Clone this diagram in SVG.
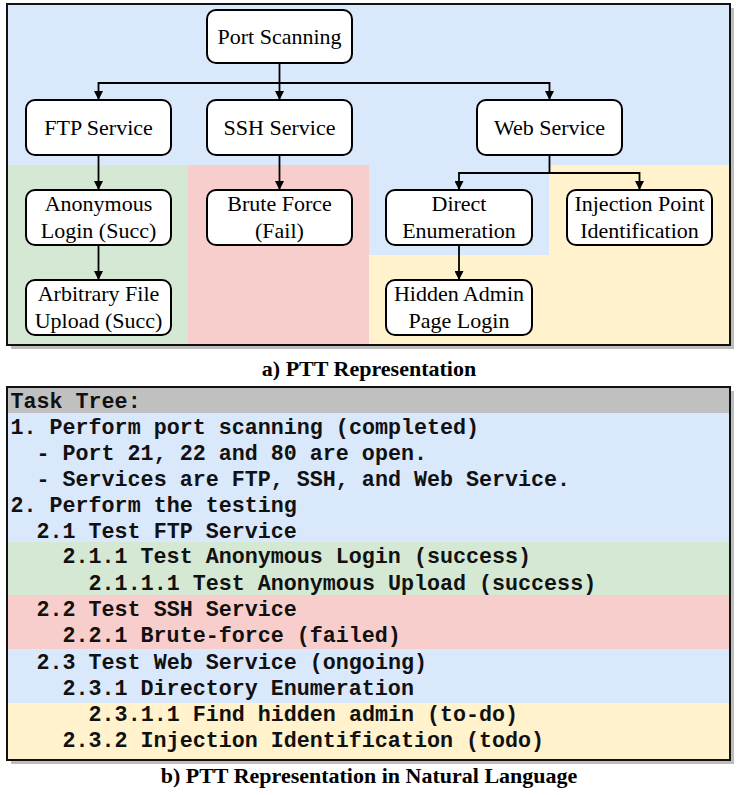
<svg xmlns="http://www.w3.org/2000/svg" width="739" height="795" viewBox="0 0 739 795">
<style>
.node rect{fill:#fff;stroke:#000;stroke-width:2}
.node text{font-family:"Liberation Serif","Times New Roman",serif;font-size:22px;fill:#000;text-anchor:middle}
.cap{font-family:"Liberation Serif","Times New Roman",serif;font-size:22px;fill:#000;text-anchor:middle;font-weight:bold}
.conn path{fill:none;stroke:#000;stroke-width:1.8}
.mono{font-family:"Liberation Mono","Courier New",monospace;font-size:21.7px;font-weight:bold;fill:#111}
.frame{fill:none;stroke:#111;stroke-width:2}
.shadow{fill:#bdbdbd}
</style>
<defs>
<marker id="arr" viewBox="0 0 10 10" refX="10" refY="5" markerWidth="9" markerHeight="9" markerUnits="userSpaceOnUse" orient="auto">
<path d="M0,0 L10,5 L0,10 z" fill="#000"/>
</marker>
</defs>

<!-- panel a -->
<g id="panel-a">
<rect class="shadow" x="11" y="8" width="723" height="341"/>
<rect x="7" y="4" width="723" height="341" fill="#dae8fc"/>
<rect x="8" y="165" width="180" height="179" fill="#d5e8d4"/>
<rect x="188" y="165" width="181" height="179" fill="#f8cecc"/>
<path d="M549,165 H729 V344 H369 V255 H549 Z" fill="#fff2cc"/>
<rect class="frame" x="7" y="4" width="723" height="341"/>
</g>

<g class="conn" id="connectors">
<path d="M279.5,63 V100" marker-end="url(#arr)"/>
<path d="M279.5,83 H98.5 V100" marker-end="url(#arr)"/>
<path d="M279.5,83 H549.5 V100" marker-end="url(#arr)"/>
<path d="M98.5,155 V190" marker-end="url(#arr)"/>
<path d="M98.5,245 V280" marker-end="url(#arr)"/>
<path d="M279.5,155 V190" marker-end="url(#arr)"/>
<path d="M549.5,155 V173 H459 V190" marker-end="url(#arr)"/>
<path d="M549.5,173 H639.5 V190" marker-end="url(#arr)"/>
<path d="M459,245 V280" marker-end="url(#arr)"/>
</g>

<g class="node" id="port-scanning"><rect x="207" y="10" width="145" height="53" rx="9"/><text x="279.5" y="44">Port Scanning</text></g>
<g class="node" id="ftp-service"><rect x="26" y="100" width="145" height="55" rx="9"/><text x="98.5" y="135">FTP Service</text></g>
<g class="node" id="ssh-service"><rect x="207" y="100" width="145" height="55" rx="9"/><text x="279.5" y="135">SSH Service</text></g>
<g class="node" id="web-service"><rect x="477" y="100" width="145" height="55" rx="9"/><text x="549.5" y="135">Web Service</text></g>
<g class="node" id="anonymous-login"><rect x="26" y="190" width="145" height="55" rx="9"/><text x="98.5" y="211">Anonymous</text><text x="98.5" y="238">Login (Succ)</text></g>
<g class="node" id="arbitrary-upload"><rect x="26" y="280" width="145" height="55" rx="9"/><text x="98.5" y="301">Arbitrary File</text><text x="98.5" y="328">Upload (Succ)</text></g>
<g class="node" id="brute-force"><rect x="207" y="190" width="145" height="55" rx="9"/><text x="279.5" y="211">Brute Force</text><text x="279.5" y="238">(Fail)</text></g>
<g class="node" id="direct-enum"><rect x="386" y="190" width="146" height="55" rx="9"/><text x="459" y="211">Direct</text><text x="459" y="238">Enumeration</text></g>
<g class="node" id="injection-point"><rect x="567" y="190" width="145" height="55" rx="9"/><text x="639.5" y="211">Injection Point</text><text x="639.5" y="238">Identification</text></g>
<g class="node" id="hidden-admin"><rect x="386" y="280" width="146" height="55" rx="9"/><text x="459" y="301">Hidden Admin</text><text x="459" y="328">Page Login</text></g>

<text class="cap" x="369" y="376">a) PTT Representation</text>

<!-- panel b -->
<g id="panel-b">
<rect class="shadow" x="11" y="391" width="723" height="373"/>
<rect x="7" y="387" width="723" height="26" fill="#c0c0c0"/>
<rect x="7" y="413" width="723" height="129" fill="#dae8fc"/>
<rect x="7" y="542" width="723" height="53" fill="#d5e8d4"/>
<rect x="7" y="595" width="723" height="54" fill="#f8cecc"/>
<rect x="7" y="649" width="723" height="54" fill="#dae8fc"/>
<rect x="7" y="703" width="723" height="57" fill="#fff2cc"/>
<rect class="frame" x="7" y="387" width="723" height="373"/>
<text class="mono" x="10.5" y="408">Task Tree:</text>
<text class="mono" x="10.5" y="434">1. Perform port scanning (completed)</text>
<text class="mono" x="36.5" y="460">- Port 21, 22 and 80 are open.</text>
<text class="mono" x="36.5" y="486">- Services are FTP, SSH, and Web Service.</text>
<text class="mono" x="10.5" y="512">2. Perform the testing</text>
<text class="mono" x="36.5" y="538">2.1 Test FTP Service</text>
<text class="mono" x="62.5" y="563">2.1.1 Test Anonymous Login (success)</text>
<text class="mono" x="88.6" y="589.5">2.1.1.1 Test Anonymous Upload (success)</text>
<text class="mono" x="36.5" y="615.5">2.2 Test SSH Service</text>
<text class="mono" x="62.5" y="642">2.2.1 Brute-force (failed)</text>
<text class="mono" x="36.5" y="668.5">2.3 Test Web Service (ongoing)</text>
<text class="mono" x="62.5" y="695">2.3.1 Directory Enumeration</text>
<text class="mono" x="88.6" y="721">2.3.1.1 Find hidden admin (to-do)</text>
<text class="mono" x="62.5" y="747">2.3.2 Injection Identification (todo)</text>
</g>

<text class="cap" x="369" y="783">b) PTT Representation in Natural Language</text>
</svg>
